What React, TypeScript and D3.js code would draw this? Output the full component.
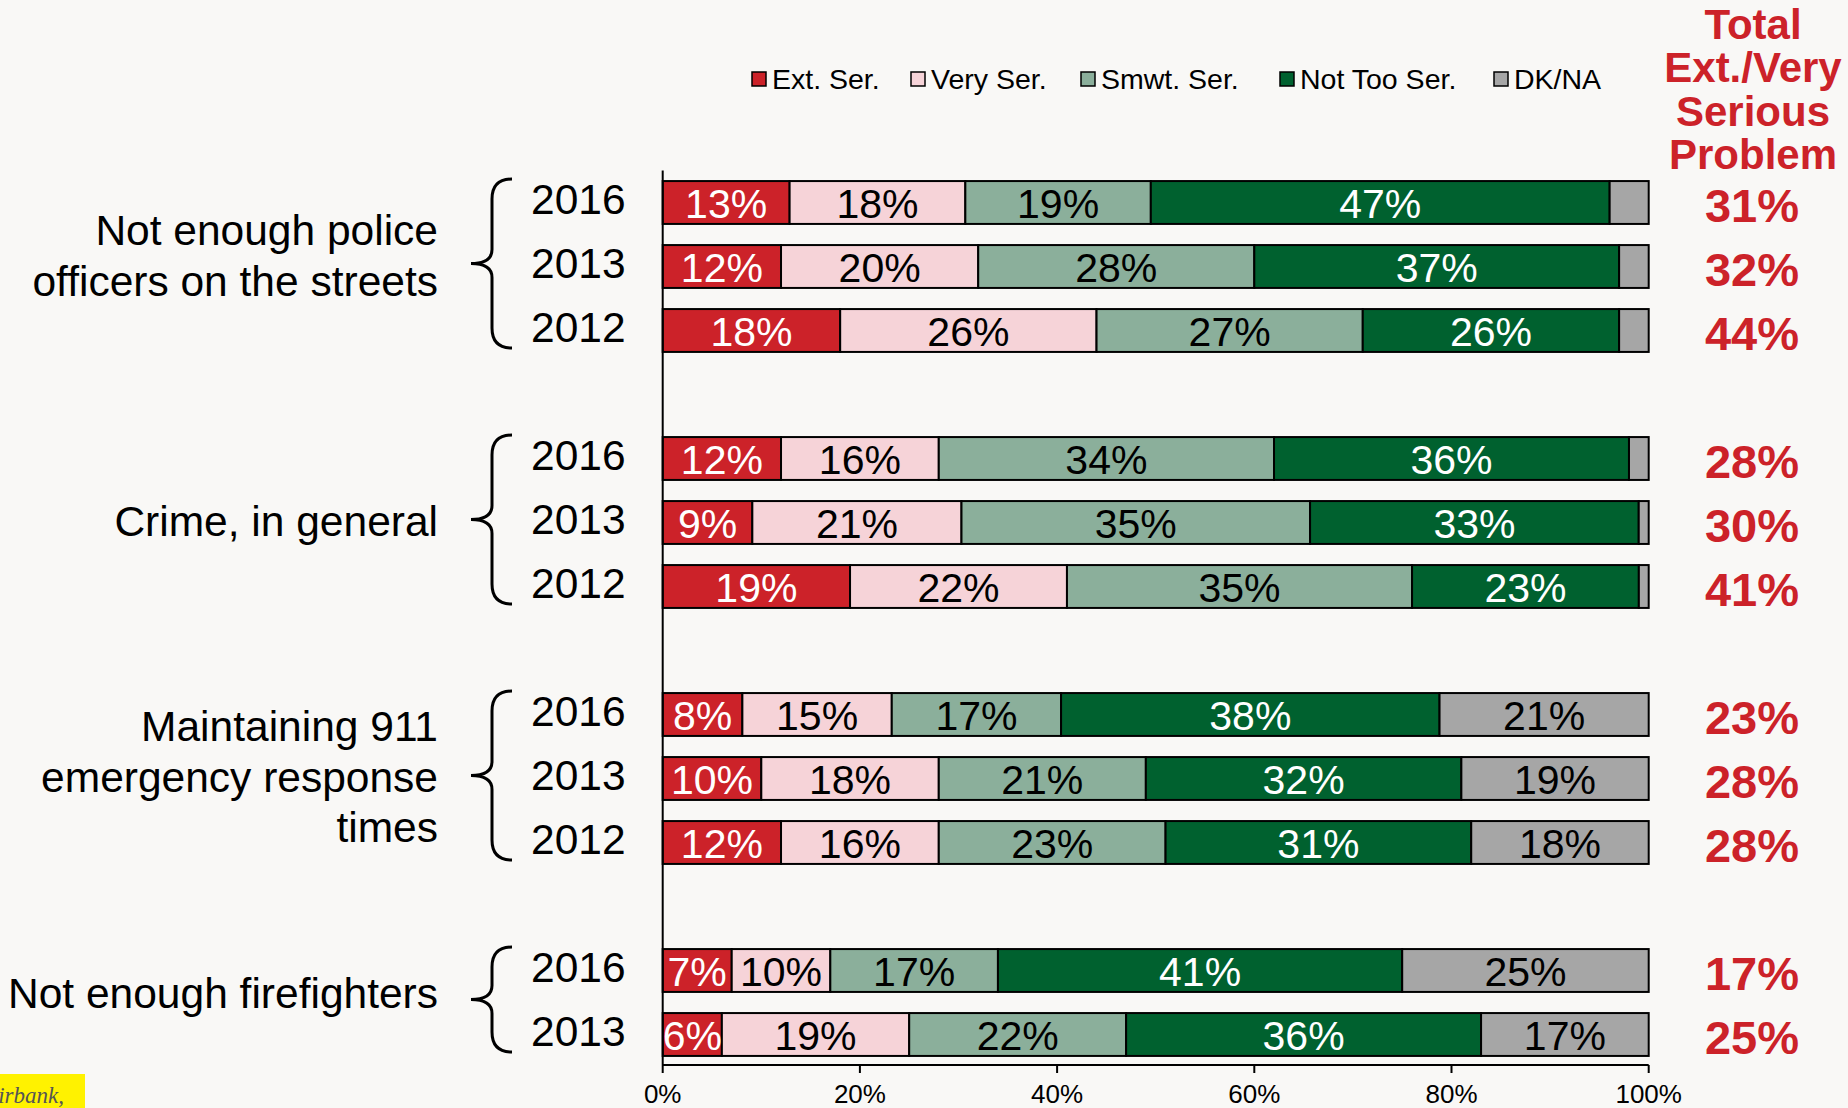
import React from "react";
import * as d3 from "d3";

// ---------- DATA ----------
const groupLabels: string[][] = [
  ["Not enough police", "officers on the streets"],
  ["Crime, in general"],
  ["Maintaining 911", "emergency response", "times"],
  ["Not enough firefighters"],
];
const rowGroup = [0, 0, 0, 1, 1, 1, 2, 2, 2, 3, 3];
const years = ["2016", "2013", "2012", "2016", "2013", "2012", "2016", "2013", "2012", "2016", "2013"];
const extSer = [13, 12, 18, 12, 9, 19, 8, 10, 12, 7, 6];
const verySer = [18, 20, 26, 16, 21, 22, 15, 18, 16, 10, 19];
const smwtSer = [19, 28, 27, 34, 35, 35, 17, 21, 23, 17, 22];
const notTooSer = [47, 37, 26, 36, 33, 23, 38, 32, 31, 41, 36];
const dkNa = [4, 3, 3, 2, 1, 1, 21, 19, 18, 25, 17];
const totals = [31, 32, 44, 28, 30, 41, 23, 28, 28, 17, 25];
const seriesNames = ["Ext. Ser.", "Very Ser.", "Smwt. Ser.", "Not Too Ser.", "DK/NA"];
const seriesColors = ["#CC2229", "#F6D3D8", "#8BAF9B", "#00612F", "#A6A6A6"];
const seriesTextColors = ["#FFFFFF", "#000000", "#000000", "#FFFFFF", "#000000"];
const titleLines = ["Total", "Ext./Very", "Serious", "Problem"];
const xTicks = [0, 20, 40, 60, 80, 100];

// ---------- LAYOUT ----------
const W = 1848;
const H = 1108;
const FONT = "'Liberation Sans', Arial, Helvetica, sans-serif";
const RED = "#CC2229";
const legendX = [752, 911, 1081, 1280, 1494];
const groupLabelShift = [-11, -1.5, -2, -10];

export default function App() {
  const series = [extSer, verySer, smwtSer, notTooSer, dkNa];
  const x = d3.scaleLinear().domain([0, 100]).range([662.7, 1648.7]);
  const nSlots = rowGroup.length + groupLabels.length - 1;
  const y = d3
    .scaleBand<number>()
    .domain(d3.range(nSlots))
    .range([170.5, 1066.5])
    .paddingInner(0.33)
    .paddingOuter(0.165);
  const bw = y.bandwidth();
  const slotOf = (i: number) => i + rowGroup[i];
  const cy = (i: number) => (y(slotOf(i)) as number) + bw / 2;

  const rows = years.map((yr, i) => {
    const vals = series.map((s) => s[i]);
    const sum = d3.sum(vals);
    const stack: { x0: number; x1: number; v: number; k: number }[] = [];
    let acc = 0;
    vals.forEach((v, k) => {
      stack.push({ x0: (acc / sum) * 100, x1: ((acc + v) / sum) * 100, v, k });
      acc += v;
    });
    return { yr, i, stack };
  });

  const axisY = 1065;

  return (
    <svg
      width={W}
      height={H}
      style={{ position: "absolute", left: 0, top: 0, background: "#F9F8F6" }}
      fontFamily={FONT}
    >
      <rect x={0} y={0} width={W} height={H} fill="#F9F8F6" />

      {/* Legend */}
      {seriesNames.map((name, k) => (
        <g key={name} transform={`translate(${legendX[k]},0)`}>
          <rect x={0} y={72} width={14} height={14} fill={seriesColors[k]} stroke="#000" strokeWidth={1.5} />
          <text x={20} y={89} fontSize={28.5} fill="#000">
            {name}
          </text>
        </g>
      ))}

      {/* Right title */}
      {titleLines.map((t, j) => (
        <text
          key={t}
          x={1753}
          y={38.5 + j * 43.5}
          fontSize={42}
          fontWeight="bold"
          fill={RED}
          textAnchor="middle"
        >
          {t}
        </text>
      ))}

      {/* Bars */}
      {rows.map((r) => (
        <g key={r.i}>
          {r.stack.map((s) => (
            <rect
              key={s.k}
              x={x(s.x0)}
              y={y(slotOf(r.i)) as number}
              width={x(s.x1) - x(s.x0)}
              height={bw}
              fill={seriesColors[s.k]}
              stroke="#000"
              strokeWidth={2}
            />
          ))}
          {r.stack
            .filter((s) => s.k < 4 || s.v >= 10)
            .map((s) => (
              <text
                key={"t" + s.k}
                x={(x(s.x0) + x(s.x1)) / 2}
                y={cy(r.i) + 15}
                fontSize={41}
                textAnchor="middle"
                fill={seriesTextColors[s.k]}
              >
                {s.v + "%"}
              </text>
            ))}
          <text x={531} y={cy(r.i) + 11.5} fontSize={42.5} fill="#000">
            {r.yr}
          </text>
          <text
            x={1752}
            y={cy(r.i) + 19}
            fontSize={47}
            fontWeight="bold"
            fill={RED}
            textAnchor="middle"
          >
            {totals[r.i] + "%"}
          </text>
        </g>
      ))}

      {/* Group labels and braces */}
      {groupLabels.map((lines, g) => {
        const idx = rowGroup.map((gg, i) => (gg === g ? i : -1)).filter((i) => i >= 0);
        const top = (y(slotOf(idx[0])) as number) - 2;
        const bot = (y(slotOf(idx[idx.length - 1])) as number) + bw - 4;
        const mid = (top + bot) / 2;
        const gc = (cy(idx[0]) + cy(idx[idx.length - 1])) / 2 + groupLabelShift[g];
        const lh = 50.7;
        const x0 = 512, xv = 492, xt = 471;
        const path = `M ${x0} ${top} Q ${xv} ${top} ${xv} ${top + 20} L ${xv} ${mid - 14} Q ${xv} ${mid} ${xt} ${mid} Q ${xv} ${mid} ${xv} ${mid + 14} L ${xv} ${bot - 20} Q ${xv} ${bot} ${x0} ${bot}`;
        return (
          <g key={g}>
            <path d={path} fill="none" stroke="#000" strokeWidth={3} />
            {lines.map((ln, j) => (
              <text
                key={j}
                x={438}
                y={gc + (j - (lines.length - 1) / 2) * lh + 15}
                fontSize={42.5}
                textAnchor="end"
                fill="#000"
              >
                {ln}
              </text>
            ))}
          </g>
        );
      })}

      {/* Axes */}
      <line x1={x(0)} x2={x(0)} y1={170.5} y2={axisY} stroke="#000" strokeWidth={2} />
      <line x1={x(0)} x2={x(100)} y1={axisY} y2={axisY} stroke="#000" strokeWidth={2} />
      {xTicks.map((t) => (
        <g key={t}>
          <line x1={x(t)} x2={x(t)} y1={axisY} y2={axisY + 8} stroke="#000" strokeWidth={2} />
          <text x={x(t)} y={1103} fontSize={26} textAnchor="middle" fill="#000">
            {t + "%"}
          </text>
        </g>
      ))}

      {/* Source tag */}
      <rect x={0} y={1074} width={85} height={34} fill="#FFF200" />
      <text
        x={64}
        y={1103}
        fontSize={23}
        fontStyle="italic"
        fontFamily="'Liberation Serif', 'Times New Roman', serif"
        textAnchor="end"
        fill="#555"
      >
        Fairbank,
      </text>
    </svg>
  );
}
